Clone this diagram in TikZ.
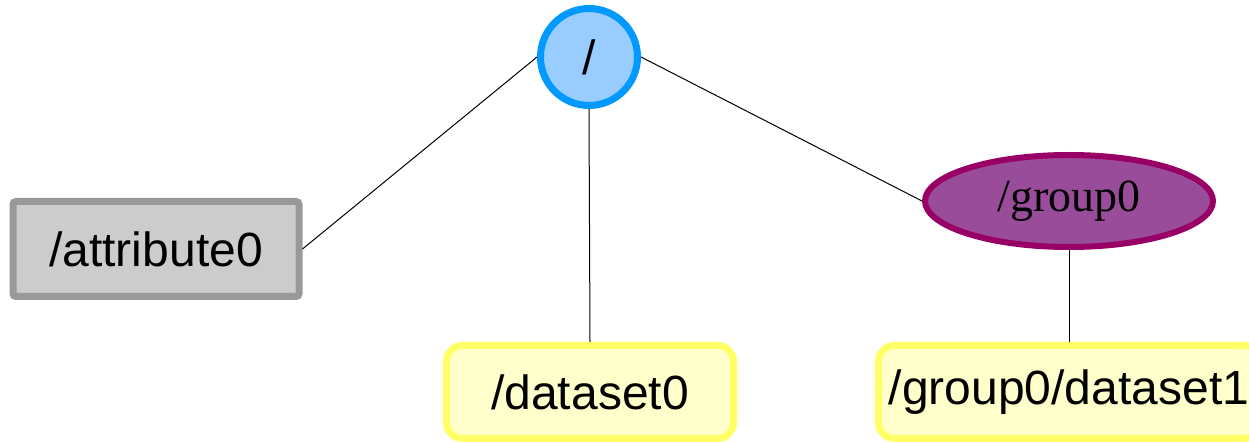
\documentclass[tikz,border=0pt]{standalone}
\usepackage{fontspec}
\setmainfont{Liberation Sans}
\newfontfamily\grpfont{Liberation Serif}
\usetikzlibrary{shapes.geometric}
\definecolor{rootfill}{HTML}{99CCFF}
\definecolor{rootline}{HTML}{0099FF}
\definecolor{grpfill}{HTML}{994C99}
\definecolor{grpline}{HTML}{990066}
\definecolor{attrfill}{HTML}{CCCCCC}
\definecolor{attrline}{HTML}{999999}
\definecolor{dsetfill}{HTML}{FFFFCC}
\definecolor{dsetline}{HTML}{FFFF66}
\tikzset{%
  rootnode/.style={circle, draw=rootline, fill=rootfill, line width=3.5pt, minimum size=48.5pt, inner sep=0pt},
  grpnode/.style={ellipse, draw=grpline, fill=grpfill, line width=3pt, minimum width=144pt, minimum height=46pt, inner sep=0pt, font=\grpfont\fontsize{23}{23}\selectfont},
  attrnode/.style={rectangle, rounded corners=1.5pt, draw=attrline, fill=attrfill, line width=3.5pt, minimum width=143pt, minimum height=47.5pt, inner sep=0pt},
  dsetnode/.style={rectangle, rounded corners=8pt, draw=dsetline, fill=dsetfill, line width=3.5pt, minimum height=46.5pt, inner sep=0pt},
  link/.style={black, line width=0.5pt}
}

\begin{document}
\begin{tikzpicture}[x=0.5pt,y=-0.5pt,font=\fontsize{24}{24}\selectfont]
\useasboundingbox (0,0) rectangle (1249,443);
\node[rootnode] (root) at (589,57) {/};
\node[attrnode] (attr) at (156,249) {/attribute0};
\node[grpnode] (grp0) at (1069,201) {/group0};
\node[dsetnode, minimum width=143.5pt] (dset0) at (590,392) {/dataset0};
\node[dsetnode, minimum width=190.5pt] (dset1) at (1069,392) {/group0/dataset1};
% links
\draw[link] (root.west) -- (attr.east);
\draw[link] (root.south) -- (dset0.north);
\draw[link] (root.east) -- (grp0.west);
\draw[link] (grp0.south) -- (dset1.north);
\end{tikzpicture}
\end{document}
